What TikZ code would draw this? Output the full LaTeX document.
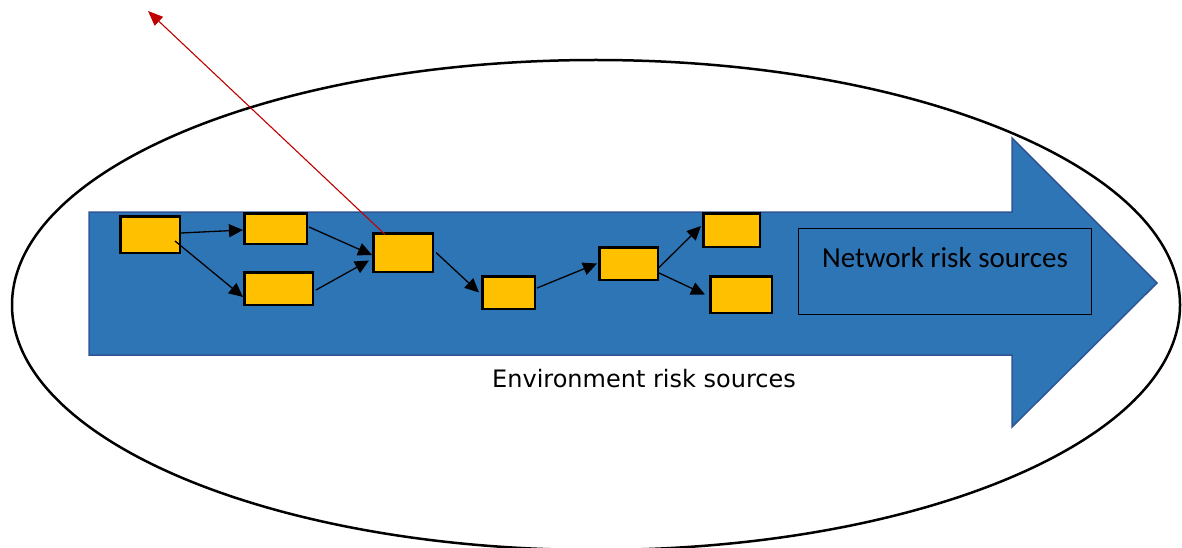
\documentclass[tikz,border=0pt]{standalone}
\usepackage{fontspec}
\newfontfamily\calfont{Carlito}
\newfontfamily\verfont{DejaVu Sans}
\usetikzlibrary{arrows.meta,calc}
\definecolor{arrowblue}{HTML}{2E75B6}
\definecolor{arrowedge}{HTML}{2F5597}
\definecolor{boxfill}{HTML}{FFC000}
\definecolor{redline}{HTML}{C00000}
\tikzset{
  taskbox/.style={draw=black, line width=2.5pt, fill=boxfill, rectangle, inner sep=0pt},
  flow/.style={draw=black, line width=1.3pt, -{Triangle[length=14pt,width=13pt]}},
  redarrow/.style={draw=redline, line width=1.1pt, -{Triangle[length=15pt,width=12pt]}},
}
\begin{document}
\begin{tikzpicture}[x=1pt,y=-1pt]
\useasboundingbox (0,0) rectangle (1182,548);
% environment ellipse
\draw[line width=2.5pt] (596,305) ellipse [x radius=584, y radius=245];
% big blue arrow
\filldraw[fill=arrowblue, draw=arrowedge, line width=1.5pt]
  (89,212) -- (1012,212) -- (1012,138) -- (1157,283) -- (1012,427) -- (1012,355) -- (89,355) -- cycle;
% network risk sources box
\node[draw=black, line width=1.3pt, rectangle, minimum width=293pt, minimum height=86pt, inner sep=0pt] (net) at (945,271.5) {};
\node[anchor=base, inner sep=0pt] (nettext) at (945,267) {\calfont\fontsize{29}{34}\selectfont Network risk sources};
% environment label
\node[anchor=base, inner sep=0pt] (envtext) at (644,387) {\verfont\fontsize{24}{28}\selectfont Environment risk sources};
% boxes
\node[taskbox, minimum width=59.5pt, minimum height=36.5pt] (b1) at (150,234.5) {};
\node[taskbox, minimum width=62.5pt, minimum height=30.5pt] (b2) at (275.5,228.5) {};
\node[taskbox, minimum width=68.5pt, minimum height=32.5pt] (b3) at (278.5,288.5) {};
\node[taskbox, minimum width=59.5pt, minimum height=38.5pt] (b4) at (403,252.5) {};
\node[taskbox, minimum width=52.5pt, minimum height=32.5pt] (b5) at (508.5,292.5) {};
\node[taskbox, minimum width=58.5pt, minimum height=32.5pt] (b6) at (628.5,263.5) {};
\node[taskbox, minimum width=56.5pt, minimum height=33.5pt] (b7) at (731.5,230) {};
\node[taskbox, minimum width=61.5pt, minimum height=36.5pt] (b8) at (741,294.5) {};
% connectors
\draw[flow] ([shift={(0,-1.5)}]b1.east) -- ([shift={(0,1.5)}]b2.west);
\draw[flow] ([shift={(25,6.5)}]b1.center) -- ([shift={(0,8.5)}]b3.west);
\draw[flow] ([shift={(1,-1.5)}]b2.east) -- ([shift={(0,2.5)}]b4.west);
\draw[flow] ([shift={(2,1.5)}]b3.east) -- ([shift={(-3,8)}]b4.west);
\draw[flow] ([shift={(2,0)}]b4.east) -- ([shift={(-2,0)}]b5.west);
\draw[flow] ([shift={(1,-4.5)}]b5.east) -- ([shift={(-1,0)}]b6.west);
\draw[flow] ([shift={(0,4)}]b6.east) -- ([shift={(-1,-4)}]b7.west);
\draw[flow] ([shift={(0,9.5)}]b6.east) -- ([shift={(-4,0)}]b8.west);
% red arrow
\coordinate (redtip) at (148,11);
\draw[redarrow] ([shift={(-18,-18)}]b4.center) -- (redtip);
\end{tikzpicture}
\end{document}
